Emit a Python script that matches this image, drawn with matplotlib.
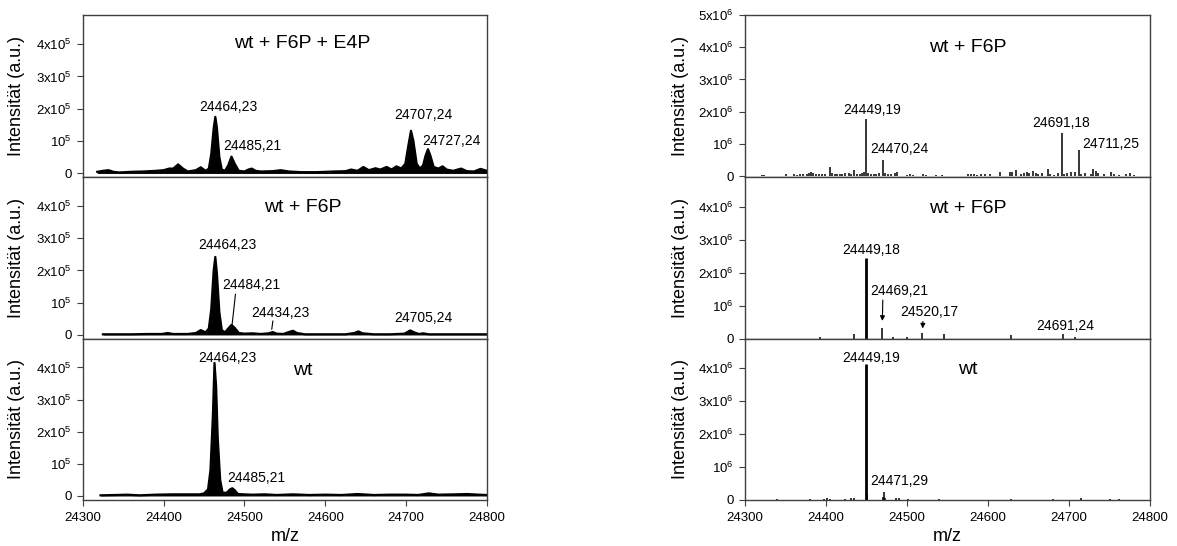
import matplotlib
matplotlib.use("Agg")
import matplotlib.pyplot as plt

plt.rcParams['font.family'] = ['Liberation Sans', 'DejaVu Sans']
plt.rcParams['mathtext.fontset'] = 'custom'
plt.rcParams['mathtext.rm'] = 'Liberation Sans'
plt.rcParams['mathtext.it'] = 'Liberation Sans:italic'
plt.rcParams['mathtext.bf'] = 'Liberation Sans:bold'

# ---- left column: profile spectra (intensity in units of 1e4) ----
mz_e4p = [24318, 24325, 24332, 24338, 24345, 24360, 24375, 24390, 24400, 24407,
          24412, 24418, 24424, 24430, 24440, 24446, 24452, 24456, 24459, 24462,
          24464, 24466, 24469, 24472, 24476, 24480, 24484, 24488, 24493, 24500,
          24505, 24509, 24514, 24520, 24535, 24545, 24555, 24570, 24590, 24610,
          24625, 24632, 24640, 24647, 24654, 24662, 24668, 24676, 24682, 24688,
          24694, 24699, 24703, 24706, 24709, 24713, 24717, 24721, 24724, 24727,
          24730, 24734, 24740, 24745, 24750, 24758, 24768, 24775, 24784, 24792, 24800]
int_e4p = [0.5, 0.8, 1.0, 0.5, 0.3, 0.5, 0.6, 0.8, 1.0, 1.5,
           1.5, 2.8, 1.5, 0.6, 1.0, 1.9, 0.8, 1.5, 6.0, 14.0,
           17.5, 14.0, 5.0, 1.2, 0.8, 2.5, 5.2, 3.0, 0.8, 0.6,
           1.2, 1.5, 0.8, 0.6, 0.7, 1.0, 0.6, 0.4, 0.4, 0.6,
           0.7, 1.2, 0.8, 2.0, 1.0, 1.6, 1.2, 2.0, 1.2, 2.2,
           1.5, 3.0, 9.0, 13.2, 10.0, 3.0, 1.5, 2.5, 5.5, 7.5,
           5.5, 2.0, 1.5, 2.2, 1.2, 0.8, 1.5, 0.7, 0.6, 1.4, 0.8]

mz_f6p = [24325, 24340, 24360, 24380, 24398, 24405, 24412, 24430, 24440, 24446,
          24452, 24456, 24459, 24462, 24464, 24466, 24469, 24472, 24476, 24480,
          24484, 24488, 24493, 24500, 24510, 24520, 24530, 24535, 24540, 24548,
          24555, 24560, 24565, 24575, 24600, 24625, 24636, 24641, 24646, 24660,
          24680, 24698, 24705, 24711, 24716, 24721, 24728, 24760, 24800]
int_f6p = [0.2, 0.2, 0.2, 0.3, 0.3, 0.6, 0.3, 0.3, 0.6, 1.5,
           0.8, 2.0, 8.0, 20.0, 24.2, 19.0, 7.0, 1.5, 0.8, 2.0,
           3.1, 2.2, 0.6, 0.4, 0.5, 0.3, 0.5, 0.9, 0.4, 0.3,
           0.9, 1.3, 0.6, 0.2, 0.2, 0.2, 0.6, 1.1, 0.5, 0.2,
           0.2, 0.4, 1.4, 0.7, 0.3, 0.5, 0.2, 0.2, 0.2]

mz_wt = [24322, 24340, 24355, 24370, 24390, 24410, 24430, 24445, 24450, 24455,
         24458, 24461, 24463, 24465, 24467, 24470, 24473, 24478, 24482, 24485,
         24488, 24492, 24500, 24510, 24525, 24540, 24560, 24580, 24600, 24620,
         24640, 24660, 24680, 24700, 24715, 24728, 24740, 24760, 24775, 24790, 24800]
int_wt = [0.2, 0.3, 0.4, 0.2, 0.4, 0.5, 0.5, 0.5, 0.8, 2.0,
          8.0, 25.0, 41.4, 34.0, 18.0, 5.0, 1.0, 1.0, 2.0, 2.4,
          1.8, 0.6, 0.5, 0.4, 0.5, 0.3, 0.5, 0.3, 0.4, 0.3,
          0.6, 0.3, 0.4, 0.4, 0.3, 0.8, 0.4, 0.5, 0.6, 0.4, 0.3]

# ---- right column: centroid (stick) spectra (intensity in units of 1e6) ----
stick_mz_f6p_a = [24321, 24323, 24351, 24360, 24364, 24368, 24372, 24376, 24379, 24382,
                  24384, 24388, 24391, 24395, 24399, 24405, 24408, 24411, 24414, 24417,
                  24420, 24424, 24428, 24431, 24434, 24438, 24442, 24445, 24447, 24449,
                  24452, 24455, 24459, 24462, 24466, 24470, 24473, 24476, 24480, 24485,
                  24488, 24500, 24504, 24508, 24520, 24524, 24536, 24543, 24575, 24579,
                  24583, 24587, 24591, 24596, 24603, 24615, 24627, 24630, 24635, 24641,
                  24645, 24648, 24651, 24655, 24659, 24662, 24667, 24674, 24677, 24682,
                  24687, 24691, 24694, 24698, 24702, 24708, 24712, 24715, 24720, 24727,
                  24730, 24733, 24736, 24743, 24752, 24756, 24762, 24770, 24775, 24780]
stick_int_f6p_a = [0.04, 0.03, 0.05, 0.05, 0.04, 0.06, 0.05, 0.07, 0.09, 0.12,
                   0.08, 0.07, 0.05, 0.06, 0.05, 0.27, 0.08, 0.06, 0.05, 0.07,
                   0.06, 0.08, 0.09, 0.07, 0.19, 0.05, 0.07, 0.10, 0.12, 1.76,
                   0.08, 0.06, 0.05, 0.05, 0.09, 0.50, 0.08, 0.05, 0.05, 0.10,
                   0.13, 0.04, 0.05, 0.03, 0.05, 0.04, 0.04, 0.03, 0.05, 0.05,
                   0.06, 0.04, 0.06, 0.05, 0.06, 0.13, 0.14, 0.12, 0.18, 0.05,
                   0.10, 0.12, 0.08, 0.15, 0.10, 0.07, 0.09, 0.21, 0.05, 0.04,
                   0.08, 1.35, 0.07, 0.10, 0.12, 0.12, 0.80, 0.06, 0.10, 0.05,
                   0.22, 0.15, 0.10, 0.05, 0.12, 0.06, 0.04, 0.06, 0.10, 0.04]

stick_mz_f6p_b = [24393, 24434, 24449, 24469.5, 24483, 24500, 24519, 24546, 24628, 24692, 24708]
stick_int_f6p_b = [0.04, 0.15, 2.45, 0.31, 0.04, 0.06, 0.17, 0.14, 0.10, 0.14, 0.05]

stick_mz_wt = [24340, 24380, 24397, 24401, 24405, 24423, 24431, 24434, 24449.4, 24451,
               24470, 24471, 24473, 24487, 24490, 24501, 24540, 24628, 24680, 24715,
               24750, 24762]
stick_int_wt = [0.01, 0.02, 0.03, 0.04, 0.02, 0.02, 0.05, 0.04, 4.11, 0.18,
                0.07, 0.22, 0.06, 0.05, 0.04, 0.03, 0.02, 0.02, 0.02, 0.05,
                0.02, 0.02]

titles_left = ['wt + F6P + E4P', 'wt + F6P', 'wt']
titles_right = ['wt + F6P', 'wt + F6P', 'wt']

# peak labels: (text, m/z of label centre, height of label centre)
labels_left = [
    [('24464,23', 24479.7, 2.04e5), ('24485,21', 24510, 0.85e5),
     ('24707,24', 24721.7, 1.8e5), ('24727,24', 24755.5, 1.0e5)],
    [('24464,23', 24478.5, 2.78e5), ('24484,21', 24509, 1.54e5),
     ('24434,23', 24545, 0.69e5), ('24705,24', 24721, 0.54e5)],
    [('24464,23', 24478.5, 4.3e5), ('24485,21', 24515, 0.57e5)],
]
labels_right = [
    [('24449,19', 24457, 2.04e6), ('24470,24', 24491, 0.84e6),
     ('24691,18', 24690.5, 1.65e6), ('24711,25', 24751, 0.99e6)],
    [('24449,18', 24456, 2.69e6), ('24469,21', 24490, 1.43e6),
     ('24520,17', 24528, 0.80e6), ('24691,24', 24695, 0.38e6)],
    [('24449,19', 24456, 4.3e6), ('24471,29', 24490, 0.56e6)],
]

W, H = 1177, 546
fig = plt.figure(figsize=(W / 100, H / 100), dpi=100)

rows = [15, 177, 338.5, 499.5]
spine_col = '#404040'

left_profiles = [(mz_e4p, int_e4p), (mz_f6p, int_f6p), (mz_wt, int_wt)]
right_sticks = [(stick_mz_f6p_a, stick_int_f6p_a), (stick_mz_f6p_b, stick_int_f6p_b),
                (stick_mz_wt, stick_int_wt)]

xticks = [24300, 24400, 24500, 24600, 24700, 24800]


def style_axis(ax, last):
    for s in ax.spines.values():
        s.set_color(spine_col)
        s.set_linewidth(1.0)
    ax.set_xlim(24300, 24800)
    ax.tick_params(axis='y', direction='out', length=4, width=0.8, pad=4,
                   labelsize=9.5, colors=spine_col, labelcolor='black', right=False)
    if last:
        ax.set_xticks(xticks)
        ax.tick_params(axis='x', direction='out', length=4, width=0.8, pad=5,
                       labelsize=9.5, colors=spine_col, labelcolor='black', top=False)
        ax.set_xlabel('m/z', fontsize=13, labelpad=3)
    else:
        ax.set_xticks([])


for i in range(3):
    y_top, y_bot = rows[i], rows[i + 1]
    last = (i == 2)

    # left column
    ax = fig.add_axes([82.7 / W, 1 - y_bot / H, 404.3 / W, (y_bot - y_top) / H])
    mz, inten = left_profiles[i]
    vals = [v * 1e4 for v in inten]
    ax.fill_between(mz, 0, vals, color='black', lw=0)
    ax.plot(mz, vals, color='black', lw=1.6)
    ax.set_ylim(-1.1e4, 4.9e5)
    ax.set_yticks([0, 1e5, 2e5, 3e5, 4e5],
                  ['0', r'$\mathregular{10^{5}}$', r'$\mathregular{2x10^{5}}$',
                   r'$\mathregular{3x10^{5}}$', r'$\mathregular{4x10^{5}}$'])
    style_axis(ax, last)
    ax.set_ylabel('Intensität (a.u.)', fontsize=13)
    ax.yaxis.set_label_coords(-0.143, 0.5)
    ax.yaxis.label.set_va('bottom')
    ax.text(24572, [4.03e5, 3.94e5, 3.9e5][i], titles_left[i], fontsize=14,
            ha='center', va='center')
    for txt, x, y in labels_left[i]:
        ax.text(x, y, txt, fontsize=10, ha='center', va='center')
    if i == 1:
        ax.plot([24488.9, 24484.8], [1.26e5, 0.33e5], color='black', lw=0.8)
        ax.plot([24535.2, 24533.8], [0.43e5, 0.18e5], color='black', lw=0.8)

    # right column
    ax = fig.add_axes([745 / W, 1 - y_bot / H, 405 / W, (y_bot - y_top) / H])
    mz, inten = right_sticks[i]
    vals = [v * 1e6 for v in inten]
    if i == 0:
        widths = 1.1
    else:
        widths = [2.0 if v > 1e6 else 1.1 for v in vals]
    ax.vlines(mz, 0, vals, color='black', lw=widths)
    if i == 0:
        ax.set_ylim(-0.03e6, 5.0e6)
        yt = [0, 1e6, 2e6, 3e6, 4e6, 5e6]
        yl = ['0', r'$\mathregular{10^{6}}$', r'$\mathregular{2x10^{6}}$',
              r'$\mathregular{3x10^{6}}$', r'$\mathregular{4x10^{6}}$',
              r'$\mathregular{5x10^{6}}$']
    else:
        ax.set_ylim(0, 4.9e6)
        yt = [0, 1e6, 2e6, 3e6, 4e6]
        yl = ['0', r'$\mathregular{10^{6}}$', r'$\mathregular{2x10^{6}}$',
              r'$\mathregular{3x10^{6}}$', r'$\mathregular{4x10^{6}}$']
    ax.set_yticks(yt, yl)
    style_axis(ax, last)
    ax.set_ylabel('Intensität (a.u.)', fontsize=13)
    ax.yaxis.set_label_coords(-0.138, 0.5)
    ax.yaxis.label.set_va('bottom')
    ax.text(24575, [4.0e6, 3.95e6, 3.96e6][i], titles_right[i], fontsize=14,
            ha='center', va='center')
    for txt, x, y in labels_right[i]:
        ax.text(x, y, txt, fontsize=10, ha='center', va='center')
    if i == 1:
        arrow = dict(arrowstyle='-|>', color='black', lw=0.8, mutation_scale=7)
        ax.annotate('', xy=(24469.5, 0.45e6), xytext=(24470.2, 1.25e6), arrowprops=arrow)
        ax.annotate('', xy=(24519.2, 0.22e6), xytext=(24519.8, 0.6e6), arrowprops=arrow)

fig.savefig('out.png', dpi=100)
